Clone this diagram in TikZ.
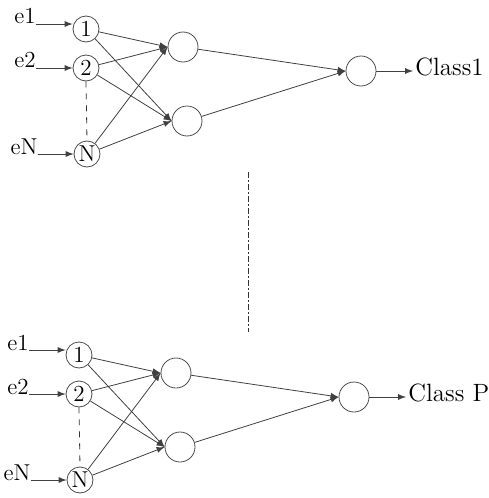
\documentclass[tikz,border=0pt]{standalone}
\begin{document}
\begin{tikzpicture}[x=0.5pt,y=-0.5pt,>=latex,
  inp/.style={circle,draw=black!70,minimum size=13pt,inner sep=0pt,font=\fontsize{11.5}{13}\selectfont},
  unit/.style={circle,draw=black!70,minimum size=15pt,inner sep=0pt},
  lab/.style={inner sep=0pt,font=\fontsize{11.5}{13}\selectfont},
  wire/.style={->,black!75,line width=0.4pt}]
\useasboundingbox (0,0) rectangle (488,498);
\foreach \dx/\dy/\cls in {0/0/Class1,-7/326/Class P}{
\begin{scope}[shift={(\dx,\dy)}]
\node[inp] (i1) at (86,29) {1};
\node[inp] (i2) at (86,68) {2};
\node[inp] (iN) at (87,154) {N};
\node[lab,anchor=base east] (e1) at (36,24) {e1};
\node[lab,anchor=base east] (e2) at (36,68) {e2};
\node[lab,anchor=base east] (eN) at (38,154) {eN};
\node[unit] (h1) at (183,47) {};
\node[unit] (h2) at (187,121) {};
\node[unit] (out) at (361,71) {};
\node[lab,anchor=base west,inner sep=1pt,font=\fontsize{12.5}{14}\selectfont] (c) at (413,75) {\cls};
\draw[wire] (e1.base east) -- (e1.base east -| i1.west);
\draw[wire] (e2.base east) -- (e2.base east -| i2.west);
\draw[wire] (eN.base east) -- (eN.base east -| iN.west);
\draw[dashed,black!80] (i2.south) -- (iN.north);
\foreach \i in {i1,i2,iN}{
\draw[wire] (\i) -- (h1.west);
\draw[wire] (\i) -- (h2.west);}
\draw[wire] (h1) -- (out.west);
\draw[wire] (h2) -- (out.west);
\draw[wire] (out) -- (out -| c.west);
\end{scope}}
\coordinate (gapA) at (248,172);
\coordinate (gapB) at (248,332);
\draw[dash pattern=on 3pt off 1pt on 1pt off 1pt,black!80] (gapA) -- (gapB);
\end{tikzpicture}
\end{document}
